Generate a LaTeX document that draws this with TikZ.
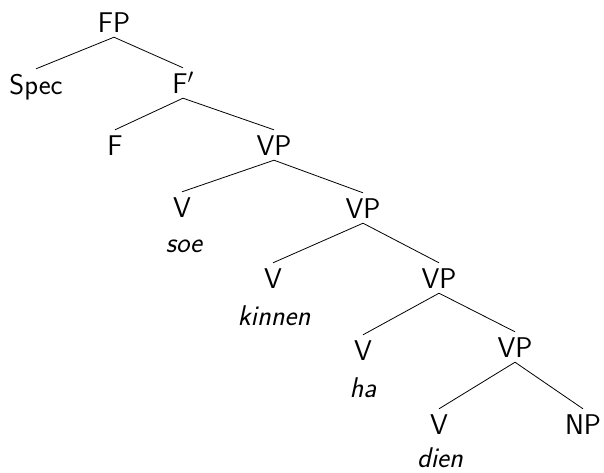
\documentclass[tikz,border=0pt]{standalone}
\begin{document}
\begin{tikzpicture}[x=1pt,y=-1pt,
  every node/.style={font=\fontsize{28.5}{34}\selectfont\sffamily},
  cat/.style={anchor=base, text height=20pt, text depth=0pt, inner xsep=0pt, inner ysep=5pt},
  word/.style={anchor=base, inner sep=0pt, font=\fontsize{28.5}{34}\selectfont\sffamily\itshape},
  branch/.style={line width=0.8pt}]
\useasboundingbox (0,0) rectangle (604,472);
\node[cat] (FP) at (114,32) {FP};
\node[cat] (Spec) at (36,94) {Spec};
\node[cat] (Fb) at (183,93) {F$'$};
\node[cat] (F) at (115,155) {F};
\node[cat] (VPa) at (274,155) {VP};
\node[cat] (Va) at (182,217) {V};
\node[word] (soe) at (184,252) {soe};
\node[cat] (VPb) at (363,218) {VP};
\node[cat] (Vb) at (273,288) {V};
\node[word] (kinnen) at (274,325) {kinnen};
\node[cat] (VPc) at (439,288) {VP};
\node[cat] (Vc) at (363,360) {V};
\node[word] (ha) at (363,397) {ha};
\node[cat] (VPd) at (515,357) {VP};
\node[cat] (Vd) at (439,434) {V};
\node[word] (dien) at (440,467) {dien};
\node[cat] (NP) at (583,434) {NP};
\draw[branch] (FP.south) -- (Spec.north);
\draw[branch] (FP.south) -- (Fb.north);
\draw[branch] (Fb.south) -- (F.north);
\draw[branch] (Fb.south) -- (VPa.north);
\draw[branch] (VPa.south) -- (Va.north);
\draw[branch] (VPa.south) -- (VPb.north);
\draw[branch] (VPb.south) -- (Vb.north);
\draw[branch] (VPb.south) -- (VPc.north);
\draw[branch] (VPc.south) -- (Vc.north);
\draw[branch] (VPc.south) -- (VPd.north);
\draw[branch] (VPd.south) -- (Vd.north);
\draw[branch] (VPd.south) -- (NP.north);
\end{tikzpicture}
\end{document}
